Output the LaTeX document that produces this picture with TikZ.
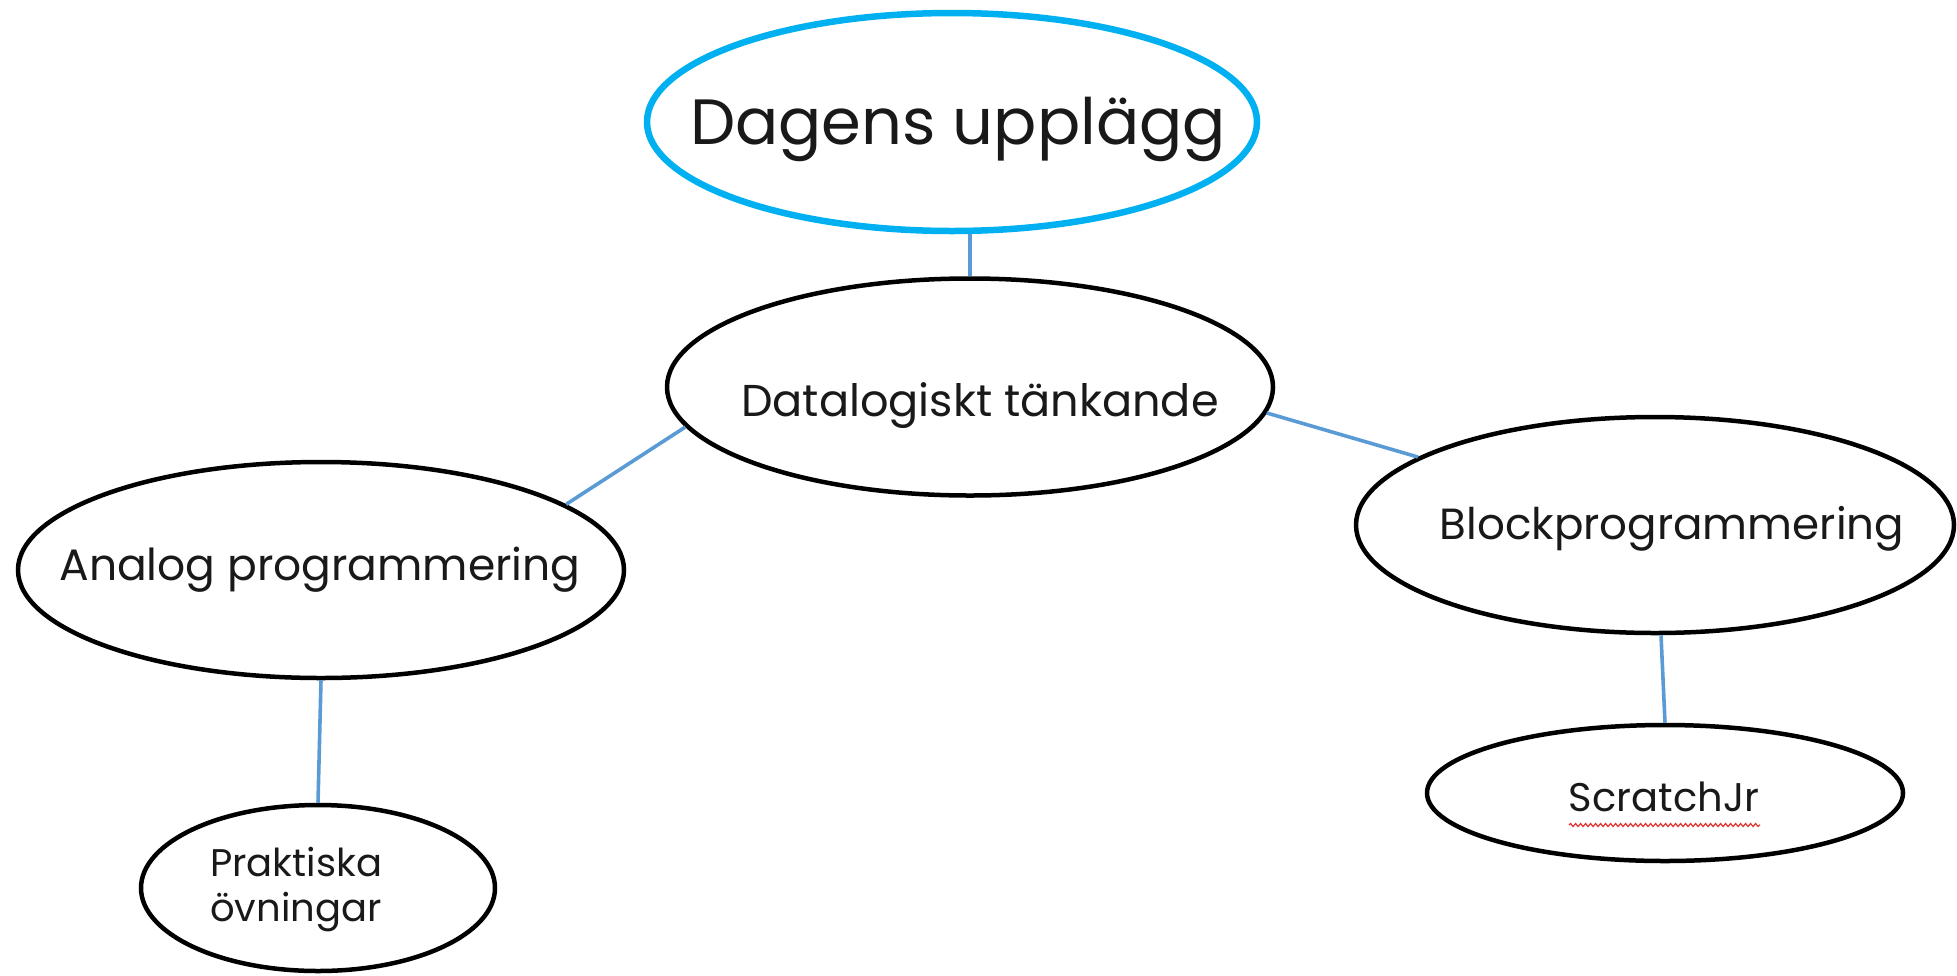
\documentclass[tikz,border=0pt]{standalone}
\usepackage{fontspec}
\setmainfont{Poppins}
\usetikzlibrary{shapes.geometric,decorations.pathmorphing}
\definecolor{topblue}{HTML}{00B0F0}
\definecolor{linkblue}{HTML}{5B9BD5}
\definecolor{spellred}{HTML}{E03030}
\tikzset{
  bubble/.style={ellipse, draw=black, line width=4.5pt, inner sep=0pt, fill=white},
  headbubble/.style={bubble, draw=topblue, line width=6.5pt},
  link/.style={draw=linkblue, line width=3.6pt},
  lbl/.style={anchor=base, inner sep=0pt, text=black!90},
}
\newcommand{\fs}[1]{\fontsize{#1}{#1}\selectfont}
\begin{document}
\begin{tikzpicture}[x=1pt, y=-1pt]
  \useasboundingbox (0,0) rectangle (1957,975);

  % ellipses
  \node[headbubble, minimum width=610, minimum height=218] (top) at (952,122) {};
  \node[bubble, minimum width=606, minimum height=217] (data) at (970,387) {};
  \node[bubble, minimum width=606, minimum height=216] (analog) at (321,570) {};
  \node[bubble, minimum width=598, minimum height=216] (block) at (1655,525) {};
  \node[bubble, minimum width=476, minimum height=136] (scratch) at (1665,793) {};
  \node[bubble, minimum width=354, minimum height=166] (prak) at (318,888) {};

  % connectors
  \draw[link] (top.south -| data.north) -- (data.north);
  \draw[link] (analog.15) -- (data.188.7);
  \draw[link] (data.-5) -- (block.164.4);
  \draw[link] ([xshift=6pt]block.south) -- (scratch.north);
  \draw[link] (analog.south) -- (prak.north);

  % labels
  \node[lbl] (tTop) at (958,144) {\fs{64}Dagens upplägg};
  \node[lbl] (tData) at (980,416) {\fs{44.6}Datalogiskt tänkande};
  \node[lbl] (tAnalog) at (320,580) {\fs{44}Analog programmering};
  \node[lbl] (tBlock) at (1672,539) {\fs{43.6}Blockprogrammering};
  \node[lbl, anchor=base west] (tPrak1) at (210,876) {\fs{38.5}Praktiska};
  \node[lbl, anchor=base west] (tPrak2) at (210,921) {\fs{38.5}övningar};
  \node[lbl] (tScratch) at (1664,811) {\fs{40}ScratchJr};

  % spell-check squiggle under ScratchJr
  \coordinate (sqA) at (1569,825);
  \coordinate (sqB) at (1760,825);
  \draw[spellred, line width=1.2pt, decorate,
        decoration={snake, segment length=5pt, amplitude=1.5pt}] (sqA) -- (sqB);
\end{tikzpicture}
\end{document}
